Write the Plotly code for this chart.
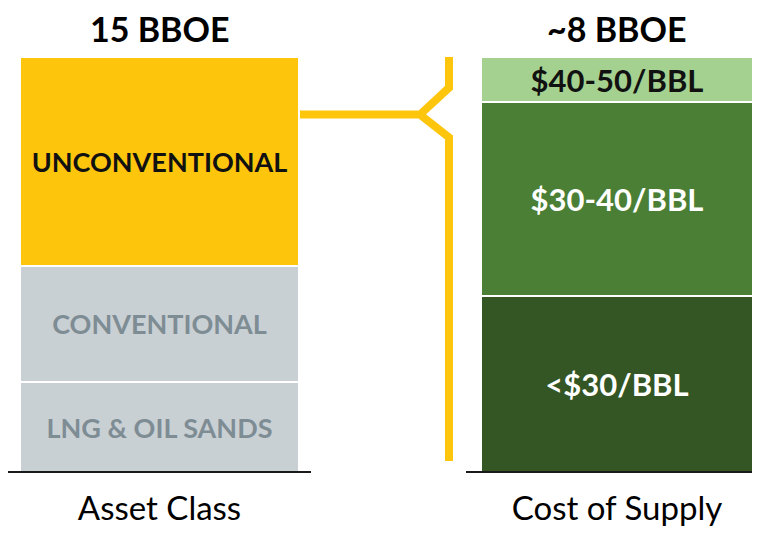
import plotly.graph_objects as go

# ---- data ----
categories = ["Asset Class", "Cost of Supply"]
asset_labels = ["LNG & OIL SANDS", "CONVENTIONAL", "UNCONVENTIONAL"]
asset_values = [3.25, 4.2, 7.55]          # BBOE, total 15
supply_labels = ["<$30/BBL", "$30-40/BBL", "$40-50/BBL"]
supply_values = [3.39, 3.74, 0.87]        # BBOE, total ~8
totals_text = ["15 BBOE", "~8 BBOE"]

# ---- styles ----
OFF = 8                      # browser body margin
W, H = 760 - 2 * OFF, 535 - 2 * OFF
FONT = "Lato"
asset_colors = ["#C9D0D4", "#C9D0D4", "#FDC60D"]
asset_text_colors = ["#7E8C94", "#7E8C94", "#111111"]
asset_text_size = 27
supply_colors = ["#345524", "#4B7F35", "#A4D190"]
supply_text_colors = ["#FFFFFF", "#FFFFFF", "#111111"]
supply_text_size = 31
YELLOW = "#FDC60D"

# page-pixel geometry helpers
plot_top, plot_bot = 57 - OFF, 475 - OFF

def px(x):
    return (x - OFF) / W

def py(y):
    return ((plot_bot + OFF) - y) / (plot_bot - plot_top)

unit = 457.5
c0 = 159.5 - OFF
c1 = c0 + unit
xr = [-c0 / unit, 1 + (W - c1) / unit]

fig = go.Figure()

for lab, val, col, tc in zip(asset_labels, asset_values, asset_colors, asset_text_colors):
    fig.add_trace(go.Bar(
        x=[categories[0]], y=[val], name=lab, text=[lab],
        marker=dict(color=col, line=dict(color="white", width=1.5)),
        width=279 / unit, textposition="inside", insidetextanchor="middle",
        textangle=0, textfont=dict(family=FONT, size=asset_text_size, color=tc, weight="bold"),
        hoverinfo="skip", yaxis="y"))

for lab, val, col, tc in zip(supply_labels, supply_values, supply_colors, supply_text_colors):
    fig.add_trace(go.Bar(
        x=[categories[1]], y=[val], name=lab, text=[lab],
        marker=dict(color=col, line=dict(color="white", width=1.5)),
        width=271 / unit, textposition="inside", insidetextanchor="middle",
        textangle=0, textfont=dict(family=FONT, size=supply_text_size, color=tc, weight="bold"),
        hoverinfo="skip", yaxis="y2"))

# totals above bars
for cat, txt, tot, ax in zip(categories, totals_text,
                             [sum(asset_values), sum(supply_values)], ["y", "y2"]):
    fig.add_annotation(x=cat, y=tot, xref="x", yref=ax, text=f"<b>{txt}</b>",
                       showarrow=False, yanchor="bottom", yshift=6,
                       font=dict(family=FONT, size=34, color="#000000"))

# bracket connector
path = (f"M {px(299)},{py(115)} L {px(420)},{py(115)} L {px(449)},{py(88)} L {px(449)},{py(57)} "
        f"M {px(420)},{py(115)} L {px(449)},{py(138)} L {px(449)},{py(464)}")
fig.add_shape(type="path", path=path, xref="paper", yref="paper",
              line=dict(color=YELLOW, width=8), layer="below")

# baselines
fig.add_shape(type="line", xref="paper", yref="paper", x0=px(8), x1=px(311), y0=0, y1=0,
              line=dict(color="#1a1a1a", width=2))
fig.add_shape(type="line", xref="paper", yref="paper", x0=px(466), x1=1.0, y0=0, y1=0,
              line=dict(color="#1a1a1a", width=2))

fig.update_layout(
    width=W, height=H,
    margin=dict(l=0, r=0, t=plot_top, b=H - plot_bot),
    paper_bgcolor="white", plot_bgcolor="white",
    barmode="stack", showlegend=False,
    xaxis=dict(type="category", range=xr, showgrid=False, zeroline=False,
               showline=False, ticks="", ticklabelstandoff=14,
               tickfont=dict(family=FONT, size=33, color="#000000")),
    yaxis=dict(range=[0, 15], visible=False, fixedrange=True),
    yaxis2=dict(range=[0, 8], visible=False, overlaying="y", fixedrange=True),
    uniformtext=dict(mode="show", minsize=10),
)

fig.write_html("out.html")
